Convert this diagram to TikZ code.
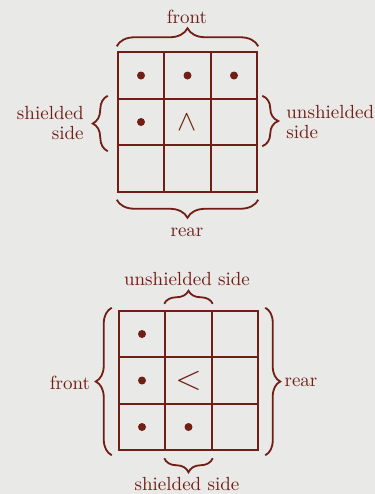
\documentclass[tikz,border=0pt]{standalone}
\usepackage{tikz}
\usetikzlibrary{decorations.pathreplacing,positioning}
\definecolor{ink}{RGB}{112,30,22}
\definecolor{paper}{RGB}{233,233,231}
\newcommand\CellSize{23.25pt}
\newcommand\Pitch{46.5}
\tikzset{
  cell/.style={
    shape = rectangle,
    draw = ink,
    line width = 1pt,
    minimum size = \CellSize,
    inner sep = 0pt
  },
}
\tikzset{
  marker/.style={
    shape = circle,
    fill = ink,
    minimum size = 4pt,
    inner sep = 0pt
  },
}
\tikzset{
  brace/.style={
    draw = ink,
    line width = 0.9pt,
    decorate,
    decoration = {brace, amplitude=#1}
  },
  brace/.default = 7.5pt,
  lbl/.style={
    text = ink,
    font = \fontsize{9.5}{10}\selectfont,
    inner sep = 1pt
  },
  heading/.style={
    text = ink,
    inner sep = 0pt
  }
}

\begin{document}
\begin{tikzpicture}[x=0.5pt, y=-0.5pt]
    \useasboundingbox[fill=paper] (0,0) rectangle (375,494);

    % facing front
    \foreach \r in {1,2,3}
      \foreach \c in {1,2,3}
        \node[cell] (t\r\c) at ({94.5+\Pitch*\c},{29+\Pitch*\r}) {};
    \foreach \n in {t11,t12,t13,t21}
        \node[marker] at (\n) {};
    \node[heading, font=\fontsize{14}{14}\selectfont] (tfacing) at (t22) {$\wedge$};

    \node[lbl] (tfront) at (187,17) {front};
    \node[lbl] (trear) at (187,232) {rear};
    \node[lbl, anchor=east, align=right] (tshield) at (86,123) {shielded\\side};
    \node[lbl, anchor=west, align=left] (topen) at (284,122) {unshielded\\side};

    \draw[brace=9pt] ([yshift=2.5pt]t11.north west) -- ([yshift=2.5pt]t13.north east);
    \draw[brace=9pt] ([yshift=-3.5pt]t33.south east) -- ([yshift=-3.5pt]t31.south west);
    \draw[brace] ([xshift=-4.5pt,yshift=-2.5pt]t21.south west) -- ([xshift=-4.5pt,yshift=1pt]t21.north west);
    \draw[brace=8pt] ([xshift=2pt,yshift=1pt]t23.north east) -- ([xshift=2pt]t23.south east);

    % facing left
    \foreach \r in {1,2,3}
      \foreach \c in {1,2,3}
        \node[cell] (b\r\c) at ({95.5+\Pitch*\c},{287.5+\Pitch*\r}) {};
    \foreach \n in {b11,b21,b31,b32}
        \node[marker] at (\n) {};
    \node[heading, font=\fontsize{19}{19}\selectfont] (bfacing) at (b22) {$<$};

    \node[lbl] (bopen) at (187,279) {unshielded side};
    \node[lbl] (bshield) at (187,484) {shielded side};
    \node[lbl] (bfront) at (70,383) {front};
    \node[lbl] (brear) at (301,382) {rear};

    \draw[brace=6.5pt] ([yshift=3pt]b12.north west) -- ([yshift=3pt]b12.north east);
    \draw[brace=7pt] ([yshift=-3.5pt]b32.south east) -- ([yshift=-3.5pt]b32.south west);
    \draw[brace=8pt] ([xshift=-3pt,yshift=-2pt]b31.south west) -- ([xshift=-3pt,yshift=1pt]b11.north west);
    \draw[brace] ([xshift=3pt,yshift=1pt]b13.north east) -- ([xshift=3pt,yshift=-2pt]b33.south east);
\end{tikzpicture}
\end{document}
